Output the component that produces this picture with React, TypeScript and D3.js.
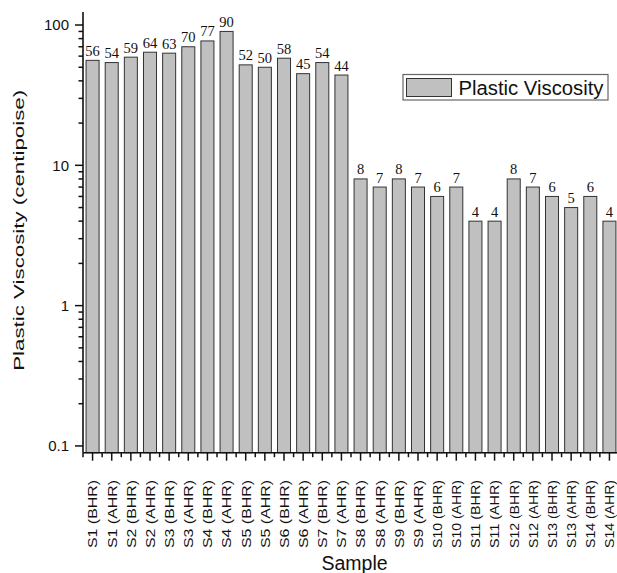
import React from "react";
import * as d3 from "d3";

const samples = [
  "S1 (BHR)", "S1 (AHR)", "S2 (BHR)", "S2 (AHR)", "S3 (BHR)", "S3 (AHR)", "S4 (BHR)", "S4 (AHR)",
  "S5 (BHR)", "S5 (AHR)", "S6 (BHR)", "S6 (AHR)", "S7 (BHR)", "S7 (AHR)", "S8 (BHR)", "S8 (AHR)",
  "S9 (BHR)", "S9 (AHR)", "S10 (BHR)", "S10 (AHR)", "S11 (BHR)", "S11 (AHR)", "S12 (BHR)", "S12 (AHR)",
  "S13 (BHR)", "S13 (AHR)", "S14 (BHR)", "S14 (AHR)",
];
const viscosity = [56, 54, 59, 64, 63, 70, 77, 90, 52, 50, 58, 45, 54, 44, 8, 7, 8, 7, 6, 7, 4, 4, 8, 7, 6, 5, 6, 4];
const yTicks = [0.1, 1, 10, 100];
const yTickLabels = ["0.1", "1", "10", "100"];
const seriesName = "Plastic Viscosity";
const xTitle = "Sample";
const yTitle = "Plastic Viscosity (centipoise)";

export default function App() {
  const W = 617, H = 573;
  const left = 83, right = 619, top = 12, bottom = 452.7;
  const x = d3.scaleBand<string>().domain(samples).range([left, right]).paddingInner(0.32).paddingOuter(0.16);
  const y = d3.scaleLog().domain([0.0895, 123.8]).range([bottom, top]);
  const step = x.step();
  const minorY: number[] = [];
  for (let e = -1; e <= 2; e++) {
    for (let m = 2; m <= 9; m++) {
      const v = m * Math.pow(10, e);
      if (v < 123.8) minorY.push(v);
    }
  }
  const boundaries = d3.range(samples.length + 1).map((i) => left + i * step);
  const sans = "'Liberation Sans', Arial, sans-serif";
  const serif = "'Liberation Serif', 'Times New Roman', serif";
  const ink = "#111";
  return (
    <svg width={W} height={H} style={{ position: "absolute", left: 0, top: 0, background: "#fff" }}>
      {samples.map((s, i) => {
        const cx = (x(s) as number) + x.bandwidth() / 2;
        return (
          <g key={s}>
            <rect x={x(s)} y={y(viscosity[i])} width={x.bandwidth()} height={bottom - y(viscosity[i])}
              fill="#c0c0c0" stroke="#333" strokeWidth={1} />
            <text x={cx} y={y(viscosity[i]) - 4.5} textAnchor="middle"
              fontFamily={serif} fontSize={14.5} fill={ink}>{viscosity[i]}</text>
            <text transform={`translate(${cx + 4.8},480) rotate(-90)`}
              textAnchor="end" fontFamily={sans} fontSize={13.5} fill={ink}
              textLength={68} lengthAdjust="spacingAndGlyphs">{s}</text>
            <line x1={cx} x2={cx} y1={bottom} y2={bottom + 8} stroke={ink} strokeWidth={1.5} />
          </g>
        );
      })}
      {boundaries.map((b, i) => (
        <line key={"b" + i} x1={b} x2={b} y1={bottom} y2={bottom + 4.5} stroke={ink} strokeWidth={1.5} />
      ))}
      <line x1={left} x2={right} y1={bottom} y2={bottom} stroke={ink} strokeWidth={1.6} />
      <line x1={left} x2={left} y1={top} y2={bottom} stroke={ink} strokeWidth={1.6} />
      {yTicks.map((t, i) => (
        <g key={"y" + t}>
          <line x1={left - 8} x2={left} y1={y(t)} y2={y(t)} stroke={ink} strokeWidth={1.5} />
          <text x={left - 14} y={y(t)} dy="0.35em" textAnchor="end" fontFamily={sans} fontSize={15} fill={ink}>
            {yTickLabels[i]}
          </text>
        </g>
      ))}
      {minorY.map((t) => (
        <line key={"m" + t} x1={left - 4.5} x2={left} y1={y(t)} y2={y(t)} stroke={ink} strokeWidth={1.5} />
      ))}
      <text transform={`translate(23.5,${(top + bottom) / 2 - 2}) rotate(-90)`} textAnchor="middle"
        fontFamily={sans} fontSize={15.5} fill={ink} textLength={281} lengthAdjust="spacingAndGlyphs">{yTitle}</text>
      <text x={354.5} y={570} textAnchor="middle" fontFamily={sans} fontSize={19.5} fill={ink}>{xTitle}</text>
      <rect x={403} y={74.5} width={205} height={25.5} fill="#fff" stroke="#666" strokeWidth={1.2} />
      <rect x={406.5} y={78.5} width={45} height={18} fill="#c0c0c0" stroke="#333" strokeWidth={1} />
      <text x={458.5} y={94.5} fontFamily={sans} fontSize={20} fill={ink} textLength={145} lengthAdjust="spacingAndGlyphs">{seriesName}</text>
    </svg>
  );
}
